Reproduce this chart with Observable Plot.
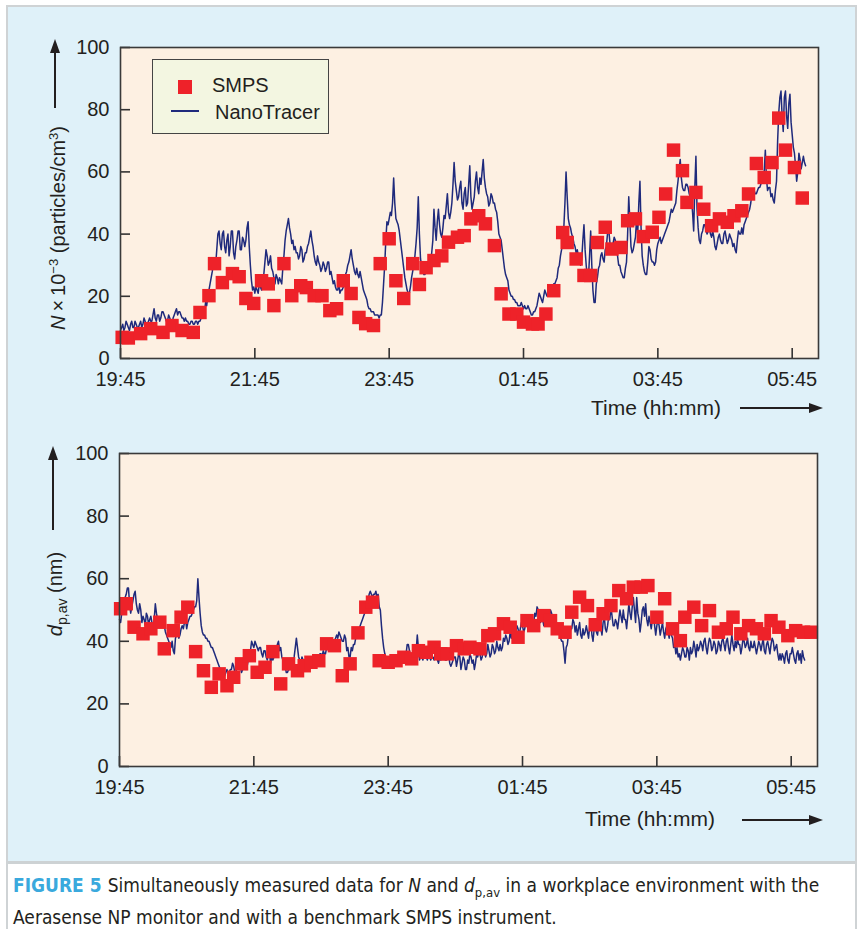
<!DOCTYPE html>
<html><head><meta charset="utf-8">
<script src="https://cdn.jsdelivr.net/npm/d3@7"></script>
<script src="https://cdn.jsdelivr.net/npm/@observablehq/plot@0.6"></script>
<style>
body{margin:0;background:#fff;width:859px;height:929px;overflow:hidden;position:relative;font-family:"Liberation Sans",Arial,sans-serif;color:#231f20;}
#frame{position:absolute;left:6px;top:5px;width:851px;height:930px;border:2px solid #cfd3d5;border-bottom:none;box-sizing:border-box;}
#panel{position:absolute;left:8px;top:7px;width:847px;height:854px;background:#dff1f9;}
#divider{position:absolute;left:8px;top:861px;width:847px;height:3px;background:#cdd2d4;}
.plotwrap{position:absolute;left:0;}
.plotwrap svg{display:block;overflow:visible;}
.ylab{position:absolute;white-space:nowrap;font-size:20px;transform:translate(-50%,-50%) rotate(-90deg);}
.xlab{position:absolute;white-space:nowrap;font-size:21px;transform:translateY(-50%);}
.vshaft{position:absolute;width:2px;background:#231f20;}
.hshaft{position:absolute;height:2px;background:#231f20;}
.uphead{position:absolute;width:0;height:0;border-left:5px solid transparent;border-right:5px solid transparent;border-bottom:14px solid #231f20;}
.righthead{position:absolute;width:0;height:0;border-top:5px solid transparent;border-bottom:5px solid transparent;border-left:14px solid #231f20;}
#legend{position:absolute;left:152px;top:59px;width:177px;height:75px;background:#f3f6e1;border:1.5px solid #444;box-sizing:border-box;}
#legend .sq{position:absolute;left:25px;top:20px;width:14px;height:14px;background:#ee2229;}
#legend .ln{position:absolute;left:18px;top:50px;width:28px;height:2px;background:#1f2a7c;}
#legend .t{position:absolute;font-size:20px;white-space:nowrap;transform:translateY(-50%);}
#caption{position:absolute;left:13px;top:873px;font-family:"Liberation Sans Narrow","DejaVu Sans Condensed","Roboto",sans-serif;font-size:19px;line-height:24px;color:#231f20;white-space:nowrap;}
#caption .fig{color:#3aa9dd;font-weight:bold;margin-right:6px;}
</style>
</head><body>
<div id="frame"></div>
<div id="panel"></div>
<div id="divider"></div>
<div id="plot1" class="plotwrap" style="top:0px"></div>
<div id="plot2" class="plotwrap" style="top:420px"></div>

<div class="ylab" style="left:58px;top:228px"><i>N</i>&thinsp;×&thinsp;10<sup style="font-size:13px">−3</sup> (particles/cm<sup style="font-size:13px">3</sup>)</div>
<div class="vshaft" style="left:54px;top:52px;height:56px"></div>
<div class="uphead" style="left:50px;top:39px"></div>

<div class="ylab" style="left:57px;top:594px"><i>d</i><sub style="font-size:14px">p,av</sub> (nm)</div>
<div class="vshaft" style="left:52px;top:459px;height:71px"></div>
<div class="uphead" style="left:48px;top:446px"></div>

<div class="xlab" style="left:591px;top:408px">Time (hh:mm)</div>
<div class="hshaft" style="left:740px;top:407px;width:70px"></div>
<div class="righthead" style="left:809px;top:403px"></div>

<div class="xlab" style="left:585px;top:819px">Time (hh:mm)</div>
<div class="hshaft" style="left:742px;top:819px;width:68px"></div>
<div class="righthead" style="left:809px;top:815px"></div>

<div id="legend">
  <div class="sq"></div><div class="t" style="left:59px;top:25px">SMPS</div>
  <div class="ln"></div><div class="t" style="left:62px;top:52px">NanoTracer</div>
</div>

<div id="caption"><span class="fig">FIGURE 5</span>Simultaneously measured data for <i>N</i> and <i>d</i><sub style="font-size:13px">p,av</sub> in a workplace environment with the<br>Aerasense NP monitor and with a benchmark SMPS instrument.</div>

<script>
// Time axis: minutes after 19:45
const timeTicks = [0, 120, 240, 360, 480, 600];
const timeTickLabels = ["19:45", "21:45", "23:45", "01:45", "03:45", "05:45"];
const yTicks = [0, 20, 40, 60, 80, 100];

// NanoTracer samples every 1 min starting 19:45
const nanoStepMin = 1;
// N x 10^-3 (particles/cm3)
const nanoN = [
 9,10,11,9,10,12,11,10,9,11,
 12,10,10,12,11,10,10,11,12,10,
 11,13,12,10,11,12,13,12,12,14,
 16,13,12,14,14,12,13,15,15,14,
 13,12,12,14,13,12,11,13,14,15,
 16,14,15,15,14,13,13,12,13,12,
 12,11,11,12,12,11,11,12,12,11,
 12,12,13,14,16,15,18,17,20,22,
 24,26,28,31,32,30,35,40,41,37,
 35,40,41,36,34,38,40,33,36,41,
 41,34,32,36,38,41,41,35,35,39,
 38,36,38,42,44,36,30,25,22,23,
 21,23,22,21,24,23,22,26,27,31,
 35,33,30,31,33,29,28,26,24,27,
 26,24,26,25,24,29,33,38,41,43,
 45,42,40,37,38,35,36,34,34,32,
 33,36,35,31,32,34,34,36,37,39,
 41,38,36,33,31,30,33,31,30,28,
 29,31,30,28,29,31,31,27,28,26,
 24,25,23,22,22,24,21,22,22,23,
 25,27,28,30,31,33,35,32,30,28,
 27,29,27,26,28,26,24,22,21,20,
 19,17,16,16,15,15,15,14,14,14,
 14,13,14,14,18,24,30,38,44,43,
 45,47,46,50,58,50,45,44,43,41,
 38,35,32,29,26,24,22,21,21,23,
 26,28,30,33,37,42,52,40,32,30,
 29,27,27,30,31,30,33,31,34,38,
 48,42,38,44,48,43,40,39,42,46,
 45,49,53,47,45,47,50,56,63,57,
 54,51,52,55,57,50,48,53,55,49,
 50,56,62,52,48,50,52,57,60,55,
 53,58,56,60,64,58,55,53,52,49,
 50,53,52,50,50,48,47,44,40,39,
 38,35,32,29,27,26,25,22,21,20,
 20,19,19,18,18,17,17,17,18,17,
 16,17,16,16,17,16,15,14,14,15,
 15,16,17,19,21,20,19,18,20,22,
 21,20,20,22,21,23,22,24,24,25,
 26,29,30,33,35,38,42,50,60,52,
 45,43,42,40,39,37,36,34,35,33,
 31,30,32,38,43,35,30,26,26,33,
 41,30,22,18,18,24,26,29,30,33,
 34,32,31,35,36,40,42,38,34,35,
 37,39,38,35,33,30,30,28,27,26,
 26,29,31,40,52,44,36,34,35,37,
 39,45,40,50,57,42,33,30,28,27,
 27,31,36,35,32,31,31,30,31,35,
 37,38,39,37,38,39,40,41,42,43,
 44,46,48,47,48,49,50,54,57,61,
 64,58,55,54,54,56,56,55,53,52,
 52,47,41,55,65,48,42,38,37,40,
 41,43,43,41,40,41,42,40,39,41,
 39,36,35,37,39,40,38,37,37,40,
 41,39,37,38,40,39,38,36,37,35,
 34,38,41,40,40,42,40,43,44,45,
 46,47,48,50,53,52,54,53,53,54,
 55,55,56,57,57,60,67,58,54,55,
 55,52,53,51,50,54,57,70,79,84,
 86,78,73,84,86,78,74,82,85,76,
 72,68,66,62,57,60,66,64,61,63,
 65,63,62
];
// d_p,av (nm)
const nanoD = [
 47,46,49,52,51,54,55,57,57,52,
 49,51,53,55,56,52,50,49,52,50,
 46,48,47,45,49,48,45,47,48,46,
 44,47,52,49,47,45,45,46,47,46,
 45,43,42,41,40,39,38,40,37,36,
 41,42,43,41,42,44,45,44,46,47,
 44,46,47,48,48,49,50,51,51,53,
 60,54,49,45,43,42,42,41,41,40,
 40,39,38,38,37,36,35,34,33,32,
 31,31,30,29,29,30,31,30,30,31,
 31,33,32,30,30,32,33,31,32,30,
 31,32,33,31,32,34,35,37,40,39,
 38,40,39,38,37,38,38,36,35,37,
 37,35,34,36,36,33,35,34,35,35,
 36,39,40,37,38,35,34,33,32,30,
 30,31,31,32,33,33,35,38,41,38,
 35,34,33,35,34,32,32,35,35,33,
 33,34,34,33,33,35,35,34,34,36,
 36,35,37,36,36,38,38,37,37,38,
 39,40,40,41,42,41,43,42,41,40,
 40,42,41,37,38,35,35,38,37,39,
 39,41,42,43,44,45,46,47,48,49,
 50,52,53,55,56,55,54,55,55,56,
 54,55,51,50,45,41,38,36,35,35,
 34,33,33,34,35,34,34,33,35,34,
 33,35,34,33,34,36,36,39,39,37,
 35,34,34,35,36,37,42,38,34,35,
 35,34,36,35,35,34,36,35,34,35,
 35,34,36,35,34,33,35,34,35,36,
 35,34,34,35,36,33,32,33,34,35,
 35,32,34,36,35,31,33,35,34,31,
 31,34,33,36,35,33,34,31,33,36,
 35,37,36,34,35,38,37,35,36,39,
 37,35,36,39,38,36,37,40,38,37,
 39,37,38,41,40,42,41,39,40,43,
 41,43,41,40,43,45,44,42,44,46,
 45,43,44,47,46,44,45,48,47,45,
 46,49,48,51,50,47,46,48,47,45,
 47,49,47,46,48,50,49,46,47,48,
 45,43,43,44,41,40,40,37,33,38,
 39,42,41,44,44,47,46,43,45,42,
 44,46,42,41,44,42,43,45,43,41,
 45,47,42,40,44,45,43,42,45,47,
 44,42,46,48,44,43,45,48,47,51,
 48,45,45,47,46,44,47,50,48,46,
 50,47,47,44,48,52,49,47,51,54,
 50,46,54,49,47,43,46,50,51,48,
 52,47,45,48,46,44,47,49,45,42,
 45,47,45,42,44,46,43,41,44,45,
 43,41,44,42,41,38,39,36,38,35,
 36,34,36,38,37,35,35,38,37,34,
 38,36,37,40,38,35,39,37,38,40,
 39,37,40,41,38,36,39,41,40,37,
 38,40,39,36,37,40,39,37,40,41,
 39,37,40,41,38,36,39,42,39,37,
 40,38,41,39,39,36,38,41,40,38,
 39,41,38,37,40,38,38,40,38,36,
 38,40,39,37,39,41,37,36,39,40,
 38,36,39,41,40,37,38,39,36,34,
 36,34,36,35,33,36,37,34,33,36,
 36,38,36,34,33,36,37,34,36,33,
 37,35,34
];

// SMPS: [minutes after 19:45, value]
const smpsN = [
 [1.5,6.8],[7,6.6],[18,8],[27,9.6],[38,8.4],[46,10.6],[55,9],[65,8.4],[71,14.8],[79,20.2],
 [84,30.5],[91,24.4],[100,27.3],[106,26.3],[112,19.3],[119,17.7],[126,25],[132,24],[137,17],[146,30.5],
 [153,20.2],[161,23.4],[166,22.8],[173,20.2],[180,20.2],[187,15.4],[193,16],[199,25],[206,20.9],[213,13.2],
 [219,11.2],[226,10.6],[232,30.5],[240,38.5],[246,25],[253,19.3],[261,30.5],[267,23.8],[273,29.2],[280,31.5],
 [287,33],[293,37.4],[301,39],[307,39.5],[313,44.9],[320,45.9],[326,43.3],[334,36.3],[340,20.8],[347,14.3],
 [354,14.3],[360,11.7],[368,11.1],[373,11.1],[380,14.3],[387,21.8],[395,40.5],[399,37.3],[407,32],[414,26.7],
 [420,26.7],[426,37.3],[433,42.2],[439,35.2],[447,35.7],[453,44.3],[460,44.9],[467,39.2],[475,40.6],[481,45.4],
 [487,52.9],[494,67],[502,60.4],[506,50.2],[514,53.4],[521,48],[528,42.7],[535,44.9],[542,43.8],[548,45.9],
 [555,47.5],[561,52.9],[568,62.7],[575,58.2],[582,63],[588,77.3],[594,67],[602,61.4],[609,51.6]
];
const smpsD = [
 [1,50.4],[6,52],[13,44.5],[21,42.4],[28,44],[36,46.1],[40,37.6],[48,43.4],[55,47.7],[61,50.9],
 [68,36.7],[75,30.6],[82,25.3],[89,29.6],[96,25.8],[102,28.5],[109,32.8],[116,35.4],[123,30.1],[130,31.7],
 [137,36.7],[144,26.4],[151,32.8],[159,30.6],[165,32.2],[171,33.3],[178,33.8],[185,39.2],[192,38.6],[199,29],
 [206,32.8],[213,42.7],[220,50.9],[226,52.5],[232,33.8],[240,33.3],[247,33.8],[254,34.9],[261,34.4],[267,37],
 [274,36.5],[281,38.1],[287,36],[293,36],[301,38.6],[308,37.6],[313,38.1],[322,37.6],[329,41.8],[335,42.4],
 [343,45.6],[349,44.5],[356,41.3],[364,46.6],[370,45],[379,48.2],[385,46.6],[391,44],[398,42.9],[404,49.3],
 [411,54.1],[418,51.4],[425,45.3],[432,48.8],[439,51.4],[446,56.2],[453,53.6],[459,57.3],[466,57.3],[472,57.8],
 [480,47.7],[487,53.6],[494,44],[501,40.2],[505,47.7],[513,50.9],[520,45],[527,49.8],[535,42.9],[542,44],
 [548,47.7],[555,42.4],[562,45],[569,44],[576,42.4],[582,46.6],[589,44.5],[597,41.8],[604,43.4],[611,42.9],[618,42.9]
];

const xDomain = [0, 623.5];

function makePlot({nano, smps, height, marginTop, marginBottom, marginLeft, marginRight}) {
  const frameW = 859 - marginLeft - marginRight;
  const frameH = height - marginTop - marginBottom;
  const lineData = nano.map((v, i) => ({t: i * nanoStepMin, v}));
  const dotData = smps.map(([t, v]) => ({t, v}));
  return Plot.plot({
    width: 859, height, marginTop, marginBottom, marginLeft, marginRight,
    style: {background: "transparent", fontFamily: "'Liberation Sans', Arial, sans-serif", fontSize: "20px", color: "#231f20", overflow: "visible"},
    x: {domain: xDomain},
    y: {domain: [0, 100]},
    marks: [
      Plot.frame({fill: "#fdf0e2"}),
      Plot.line(lineData, {x: "t", y: "v", stroke: "#1f2a7c", strokeWidth: 1.5}),
      Plot.dot(dotData, {x: "t", y: "v", symbol: "square", r: 7.6, fill: "#ee2229"}),
      Plot.tickX(timeTicks, {x: d => d, insetTop: frameH - 10, stroke: "#333", strokeWidth: 1.6}),
      Plot.tickY(yTicks, {y: d => d, insetRight: frameW - 10, stroke: "#333", strokeWidth: 1.6}),
      Plot.axisX({ticks: timeTicks, tickFormat: d => timeTickLabels[timeTicks.indexOf(d)], tickSize: 0, tickPadding: 13, label: null}),
      Plot.axisY({ticks: yTicks, tickSize: 0, tickPadding: 11, label: null}),
      Plot.frame({stroke: "#3a3a3a", strokeWidth: 1.6})
    ]
  });
}

document.getElementById("plot1").append(makePlot({nano: nanoN, smps: smpsN, height: 430, marginTop: 47, marginBottom: 72, marginLeft: 120, marginRight: 41}));
document.getElementById("plot2").append(makePlot({nano: nanoD, smps: smpsD, height: 430, marginTop: 33, marginBottom: 84, marginLeft: 119, marginRight: 42}));
</script>
</body></html>
